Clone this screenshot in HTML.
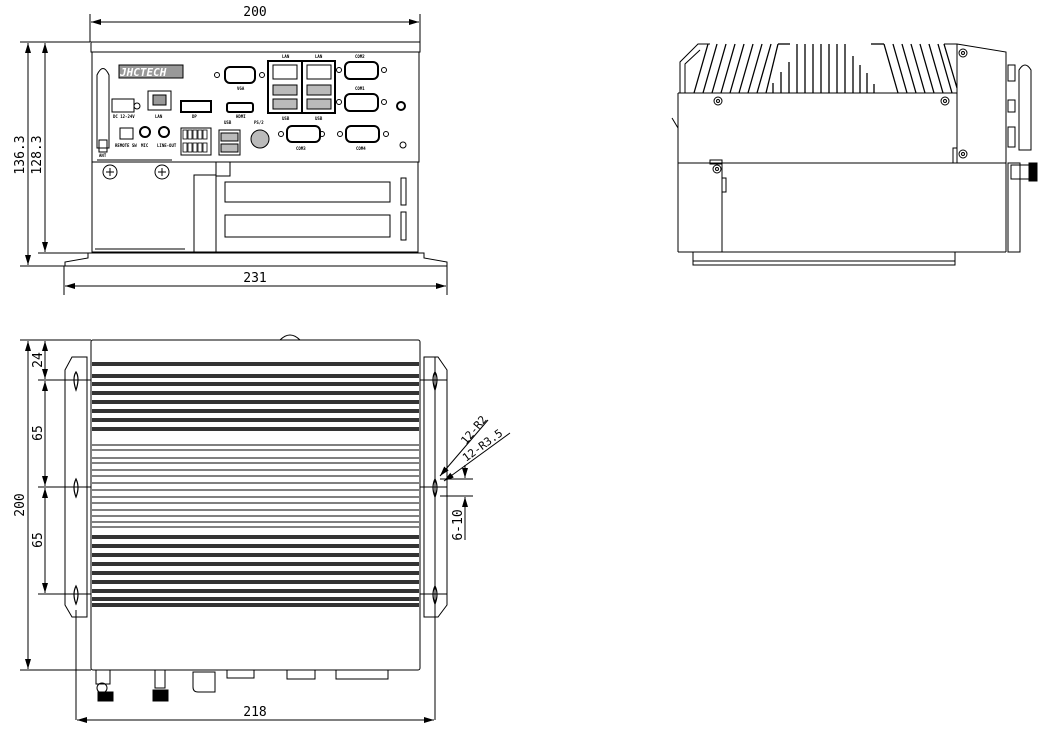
<!DOCTYPE html>
<html><head><meta charset="utf-8"><style>
html,body{margin:0;padding:0;background:#fff;}
svg{display:block;}
text{font-family:"DejaVu Sans Mono","Liberation Mono",monospace;fill:#000;}
</style></head><body>
<svg width="1054" height="738" viewBox="0 0 1054 738" xmlns="http://www.w3.org/2000/svg">
<defs>
<marker id="a" markerWidth="10" markerHeight="6" refX="10" refY="3" orient="auto-start-reverse" markerUnits="userSpaceOnUse"><path d="M0,0 L10,3 L0,6 z" fill="#000"/></marker>
</defs>
<g stroke="#000" fill="none" stroke-width="1">
<!-- ===== FRONT VIEW ===== -->
<line x1="90" y1="14" x2="90" y2="42"/><line x1="420" y1="14" x2="420" y2="42"/>
<line x1="91" y1="22" x2="419" y2="22" marker-start="url(#a)" marker-end="url(#a)"/>
<line x1="20" y1="42" x2="90" y2="42"/>
<line x1="20" y1="266" x2="65" y2="266"/>
<line x1="38" y1="253" x2="88" y2="253"/>
<line x1="28" y1="43" x2="28" y2="265" marker-start="url(#a)" marker-end="url(#a)"/>
<line x1="45" y1="43" x2="45" y2="252" marker-start="url(#a)" marker-end="url(#a)"/>
<line x1="64" y1="266" x2="64" y2="295"/><line x1="447" y1="266" x2="447" y2="295"/>
<line x1="65" y1="286" x2="446" y2="286" marker-start="url(#a)" marker-end="url(#a)"/>
<rect x="91" y="42" width="329" height="10"/>
<rect x="92" y="52" width="327" height="110"/>
<rect x="92" y="162" width="326" height="90"/>
<path d="M88,253 L88,258 L65,262 L65,266 L447,266 L447,262 L424,258 L424,253 Z"/>
<line x1="95" y1="249" x2="185" y2="249"/>
<path d="M97,148 L97,75 Q103,62 109,75 L109,148 Z"/>
<rect x="99" y="140" width="8" height="12"/>
<rect x="119" y="65" width="64" height="13" fill="#999"/>
<rect x="112" y="99" width="22" height="13"/><circle cx="137" cy="106" r="3"/>
<rect x="148" y="91" width="23" height="19"/><rect x="153" y="95" width="13" height="10" fill="#999"/>
<rect x="181" y="101" width="30" height="11" stroke-width="2"/>
<rect x="227" y="103" width="26" height="9" stroke-width="2" rx="2"/>
<rect x="225" y="67" width="30" height="16" rx="5" stroke-width="2"/>
<circle cx="217" cy="75" r="2.5"/><circle cx="262" cy="75" r="2.5"/>
<rect x="120" y="128" width="13" height="11"/>
<circle cx="145" cy="132" r="5" stroke-width="2"/><circle cx="164" cy="132" r="5" stroke-width="2"/>
<rect x="181" y="128" width="30" height="27"/>
<g stroke-width="0.8"><rect x="183" y="130" width="4" height="9"/><rect x="188" y="130" width="4" height="9"/><rect x="193" y="130" width="4" height="9"/><rect x="198" y="130" width="4" height="9"/><rect x="203" y="130" width="4" height="9"/>
<rect x="183" y="143" width="4" height="9"/><rect x="188" y="143" width="4" height="9"/><rect x="193" y="143" width="4" height="9"/><rect x="198" y="143" width="4" height="9"/><rect x="203" y="143" width="4" height="9"/></g>
<rect x="219" y="130" width="21" height="25"/>
<rect x="221" y="133" width="17" height="8" fill="#bbb"/><rect x="221" y="144" width="17" height="8" fill="#bbb"/>
<circle cx="260" cy="139" r="9" fill="#bbb"/>
<rect x="268" y="61" width="34" height="52" stroke-width="2"/>
<rect x="302" y="61" width="33" height="52" stroke-width="2"/>
<g stroke-width="1"><rect x="273" y="65" width="24" height="14"/><rect x="307" y="65" width="24" height="14"/>
<rect x="273" y="85" width="24" height="10" fill="#bbb"/><rect x="307" y="85" width="24" height="10" fill="#bbb"/>
<rect x="273" y="99" width="24" height="10" fill="#bbb"/><rect x="307" y="99" width="24" height="10" fill="#bbb"/></g>
<rect x="287" y="126" width="33" height="16" rx="5" stroke-width="2"/>
<circle cx="281" cy="134" r="2.5"/><circle cx="322" cy="134" r="2.5"/>
<rect x="345" y="62" width="33" height="17" rx="5" stroke-width="2"/>
<circle cx="339" cy="70" r="2.5"/><circle cx="384" cy="70" r="2.5"/>
<rect x="345" y="94" width="33" height="17" rx="5" stroke-width="2"/>
<circle cx="339" cy="102" r="2.5"/><circle cx="384" cy="102" r="2.5"/>
<rect x="346" y="126" width="33" height="16" rx="5" stroke-width="2"/>
<circle cx="340" cy="134" r="2.5"/><circle cx="386" cy="134" r="2.5"/>
<circle cx="401" cy="106" r="4" stroke-width="2"/>
<circle cx="403" cy="145" r="3"/>
<line x1="97" y1="160" x2="172" y2="160"/>
<circle cx="110" cy="172" r="7"/><path d="M106,172 h8 M110,168 v8"/>
<circle cx="162" cy="172" r="7"/><path d="M158,172 h8 M162,168 v8"/>
<rect x="194" y="175" width="22" height="77"/><rect x="216" y="162" width="14" height="14"/>
<rect x="225" y="182" width="165" height="20"/>
<rect x="225" y="215" width="165" height="22"/>
<rect x="401" y="178" width="5" height="27"/><rect x="401" y="212" width="5" height="28"/>

<!-- ===== SIDE VIEW ===== -->
<path d="M680,93 L680,62 L698,44 L710,44"/>
<path d="M685,93 L685,64 L700,50"/>
<g stroke-width="1.3">
<line x1="694" y1="93" x2="708" y2="44"/><line x1="703" y1="93" x2="717" y2="44"/>
<line x1="712" y1="93" x2="726" y2="44"/><line x1="721" y1="93" x2="735" y2="44"/>
<line x1="730" y1="93" x2="744" y2="44"/><line x1="739" y1="93" x2="753" y2="44"/>
<line x1="748" y1="93" x2="762" y2="44"/><line x1="757" y1="93" x2="771" y2="44"/>
<line x1="766" y1="93" x2="778" y2="44"/><line x1="778" y1="44" x2="790" y2="44"/>
<line x1="773" y1="93" x2="773" y2="83"/><line x1="781" y1="93" x2="781" y2="72"/>
<line x1="789" y1="93" x2="789" y2="62"/><line x1="797" y1="93" x2="797" y2="44"/>
<line x1="805" y1="93" x2="805" y2="44"/><line x1="813" y1="93" x2="813" y2="44"/>
<line x1="821" y1="93" x2="821" y2="44"/><line x1="829" y1="93" x2="829" y2="44"/>
<line x1="837" y1="93" x2="837" y2="44"/><line x1="845" y1="93" x2="845" y2="44"/>
<line x1="853" y1="93" x2="853" y2="56"/><line x1="860" y1="93" x2="860" y2="65"/>
<line x1="867" y1="93" x2="867" y2="73"/><line x1="874" y1="93" x2="874" y2="84"/>
<line x1="871" y1="44" x2="884" y2="44"/>
<line x1="884" y1="44" x2="898" y2="93"/><line x1="893" y1="44" x2="907" y2="93"/>
<line x1="902" y1="44" x2="916" y2="93"/><line x1="911" y1="44" x2="925" y2="93"/>
<line x1="920" y1="44" x2="934" y2="93"/><line x1="929" y1="44" x2="943" y2="93"/>
<line x1="938" y1="44" x2="952" y2="93"/><line x1="944" y1="44" x2="957" y2="88"/>
</g>
<path d="M944,44 L957,44 L1006,52 L1006,252"/>
<line x1="957" y1="44" x2="957" y2="163"/>
<line x1="678" y1="93" x2="957" y2="93"/>
<line x1="678" y1="93" x2="678" y2="252"/>
<line x1="678" y1="163" x2="1006" y2="163"/>
<line x1="678" y1="252" x2="1006" y2="252"/>
<line x1="722" y1="163" x2="722" y2="252"/>
<rect x="710" y="160" width="12" height="4"/>
<rect x="722" y="178" width="4" height="14"/>
<rect x="953" y="148" width="4" height="15"/>
<rect x="693" y="252" width="262" height="13"/>
<line x1="693" y1="261" x2="955" y2="261"/>
<line x1="672" y1="118" x2="678" y2="128"/>
<circle cx="718" cy="101" r="4"/><circle cx="718" cy="101" r="1.5"/>
<circle cx="945" cy="101" r="4"/><circle cx="945" cy="101" r="1.5"/>
<circle cx="963" cy="53" r="4"/><circle cx="963" cy="53" r="1.5"/>
<circle cx="963" cy="154" r="4"/><circle cx="963" cy="154" r="1.5"/>
<circle cx="717" cy="169" r="4"/><circle cx="717" cy="169" r="1.5"/>
<rect x="1008" y="163" width="12" height="89"/>
<rect x="1008" y="65" width="7" height="16"/><rect x="1008" y="100" width="7" height="12"/>
<rect x="1008" y="127" width="7" height="20"/>
<path d="M1019,150 L1019,70 Q1025,60 1031,70 L1031,150 Z"/>
<rect x="1011" y="165" width="18" height="14"/>
<rect x="1029" y="163" width="8" height="18" fill="#000"/>

<!-- ===== TOP VIEW ===== -->
<line x1="20" y1="340" x2="91" y2="340"/>
<line x1="20" y1="670" x2="91" y2="670"/>
<line x1="38" y1="380" x2="91" y2="380"/>
<line x1="38" y1="487" x2="91" y2="487"/>
<line x1="38" y1="594" x2="91" y2="594"/>
<line x1="28" y1="341" x2="28" y2="669" marker-start="url(#a)" marker-end="url(#a)"/>
<line x1="45" y1="341" x2="45" y2="379" marker-start="url(#a)" marker-end="url(#a)"/>
<line x1="45" y1="381" x2="45" y2="486" marker-start="url(#a)" marker-end="url(#a)"/>
<line x1="45" y1="488" x2="45" y2="593" marker-start="url(#a)" marker-end="url(#a)"/>
<rect x="91" y="340" width="329" height="330" rx="2"/>
<path d="M280,340 Q290,330 300,340"/>
<path d="M87,357 L72,357 L65,370 L65,605 L72,617 L87,617 Z"/>
<line x1="87" y1="357" x2="87" y2="617"/>
<path d="M424,357 L438,357 L447,370 L447,605 L438,617 L424,617 Z"/>
<line x1="424" y1="357" x2="424" y2="617"/>
<line x1="435" y1="357" x2="435" y2="720"/>
<line x1="76" y1="610" x2="76" y2="720"/>
<line x1="420" y1="380" x2="447" y2="380"/><line x1="420" y1="487" x2="447" y2="487"/><line x1="420" y1="594" x2="447" y2="594"/>
<g stroke-width="1.2">
<path d="M76,372 Q80,378 76,390 Q72,378 76,372 Z"/>
<path d="M76,479 Q80,487 76,497 Q72,487 76,479 Z"/>
<path d="M76,586 Q80,594 76,604 Q72,594 76,586 Z"/>
<path d="M435,372 Q439,378 435,390 Q431,378 435,372 Z"/>
<path d="M435,479 Q439,487 435,497 Q431,487 435,479 Z"/>
<path d="M435,586 Q439,594 435,604 Q431,594 435,586 Z"/>
</g>
<g fill="#333" stroke="none">
<rect x="92" y="362" width="327" height="4"/><rect x="92" y="374" width="327" height="4"/>
<rect x="92" y="382" width="327" height="4"/><rect x="92" y="391" width="327" height="4"/>
<rect x="92" y="400" width="327" height="4"/><rect x="92" y="409" width="327" height="4"/>
<rect x="92" y="418" width="327" height="4"/><rect x="92" y="427" width="327" height="4"/>
<rect x="92" y="535" width="327" height="4"/><rect x="92" y="544" width="327" height="4"/>
<rect x="92" y="553" width="327" height="4"/><rect x="92" y="562" width="327" height="4"/>
<rect x="92" y="571" width="327" height="4"/><rect x="92" y="580" width="327" height="4"/>
<rect x="92" y="589" width="327" height="4"/><rect x="92" y="597" width="327" height="4"/>
<rect x="92" y="603" width="327" height="4"/>
</g>
<line x1="92" y1="445" x2="419" y2="445"/><line x1="92" y1="450" x2="419" y2="450"/>
<line x1="92" y1="458" x2="419" y2="458"/><line x1="92" y1="463" x2="419" y2="463"/>
<line x1="92" y1="470" x2="419" y2="470"/><line x1="92" y1="476" x2="419" y2="476"/>
<line x1="92" y1="483" x2="419" y2="483"/><line x1="92" y1="490" x2="419" y2="490"/>
<line x1="92" y1="497" x2="419" y2="497"/><line x1="92" y1="503" x2="419" y2="503"/>
<line x1="92" y1="510" x2="419" y2="510"/><line x1="92" y1="516" x2="419" y2="516"/>
<line x1="92" y1="522" x2="419" y2="522"/><line x1="92" y1="527" x2="419" y2="527"/>
<rect x="96" y="670" width="14" height="14"/><circle cx="102" cy="688" r="5"/>
<rect x="98" y="692" width="15" height="9" fill="#000"/>
<rect x="155" y="670" width="10" height="18"/><rect x="153" y="690" width="15" height="11" fill="#000"/>
<path d="M193,672 L193,687 Q193,692 198,692 L215,692 L215,672 Z"/>
<rect x="227" y="670" width="27" height="8"/>
<rect x="287" y="670" width="28" height="9"/>
<rect x="336" y="670" width="52" height="9"/>
<line x1="77" y1="720" x2="434" y2="720" marker-start="url(#a)" marker-end="url(#a)"/>
<line x1="440" y1="476" x2="488" y2="420" marker-start="url(#a)"/>
<line x1="444" y1="481" x2="510" y2="433" marker-start="url(#a)"/>
<line x1="440" y1="479" x2="473" y2="479"/><line x1="440" y1="496" x2="473" y2="496"/>
<line x1="465" y1="465" x2="465" y2="478" marker-end="url(#a)"/>
<line x1="465" y1="540" x2="465" y2="497" marker-end="url(#a)"/>
</g>
<g font-size="4" font-weight="bold">
<text x="120" y="76" font-size="11" font-style="italic" fill="#fff" style="fill:#fff">JHCTECH</text>
<text x="237" y="90">VGA</text><text x="155" y="118">LAN</text><text x="192" y="118">DP</text><text x="236" y="118">HDMI</text>
<text x="113" y="118">DC 12-24V</text><text x="115" y="147">REMOTE SW</text><text x="141" y="147">MIC</text><text x="157" y="147">LINE-OUT</text>
<text x="282" y="58">LAN</text><text x="315" y="58">LAN</text><text x="355" y="58">COM2</text><text x="355" y="90">COM1</text>
<text x="282" y="120">USB</text><text x="315" y="120">USB</text><text x="224" y="124">USB</text><text x="254" y="124">PS/2</text>
<text x="296" y="150">COM3</text><text x="356" y="150">COM4</text><text x="99" y="157">ANT</text>
</g>
<g font-size="13">
<text x="255" y="16" text-anchor="middle">200</text>
<text x="255" y="282" text-anchor="middle">231</text>
<text x="255" y="716" text-anchor="middle">218</text>
<text transform="translate(24,155) rotate(-90)" text-anchor="middle">136.3</text>
<text transform="translate(41,155) rotate(-90)" text-anchor="middle">128.3</text>
<text transform="translate(24,505) rotate(-90)" text-anchor="middle">200</text>
<text transform="translate(42,360) rotate(-90)" text-anchor="middle">24</text>
<text transform="translate(42,433) rotate(-90)" text-anchor="middle">65</text>
<text transform="translate(42,540) rotate(-90)" text-anchor="middle">65</text>
<text transform="translate(462,525) rotate(-90)" text-anchor="middle">6-10</text>
<text transform="translate(466,445) rotate(-50)" font-size="11">12-R2</text>
<text transform="translate(466,462) rotate(-36)" font-size="11">12-R3.5</text>
</g>
</svg>
</body></html>
